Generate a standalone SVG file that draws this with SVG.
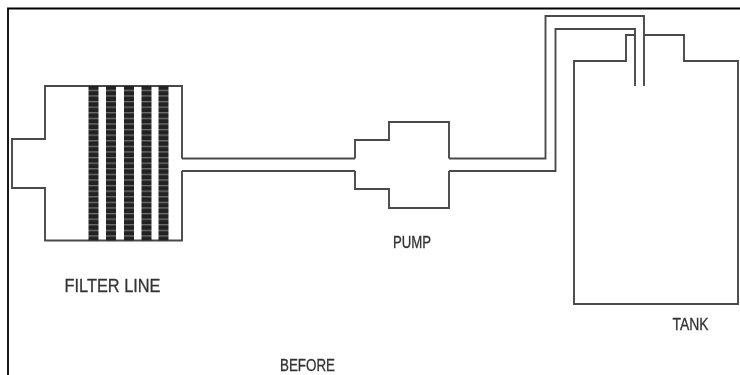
<svg xmlns="http://www.w3.org/2000/svg" width="740" height="375" viewBox="0 0 740 375">
<style>
.l{fill:none;stroke:#4a4a4a;stroke-width:1.9}
.f{fill:none;stroke:#000;stroke-width:1.8}
.t{font-family:"Liberation Sans",Arial,sans-serif;fill:#333;stroke:#333;stroke-width:.3}
</style>
<defs>
<pattern id="hatch" width="10" height="5.6" patternUnits="userSpaceOnUse" y="86">
<rect width="10" height="5.6" fill="#222"/>
<rect y="3.8" width="10" height="1.2" fill="#777"/>
</pattern>
<filter id="soft" x="0" y="0" width="740" height="375" filterUnits="userSpaceOnUse"><feGaussianBlur stdDeviation="0.5"/></filter>
</defs>
<rect width="740" height="375" fill="#fff"/>
<path id="frame" class="f" d="M8 375V8.500H740"/>
<g filter="url(#soft)">
<g id="filter-line">
<path class="l" d="M182 158.500V86H45V139H12V188H45V240.500H182V171"/>
<rect x="88.500" y="86" width="10" height="154.500" fill="url(#hatch)"/>
<rect x="106" y="86" width="10" height="154.500" fill="url(#hatch)"/>
<rect x="124" y="86" width="10" height="154.500" fill="url(#hatch)"/>
<rect x="141.500" y="86" width="10" height="154.500" fill="url(#hatch)"/>
<rect x="158.500" y="86" width="10" height="154.500" fill="url(#hatch)"/>
<text class="t" x="64.500" y="292" font-size="19" textLength="96" lengthAdjust="spacingAndGlyphs">FILTER LINE</text>
</g>
<g id="pump">
<path class="l" d="M355 158.500V140H389V122H449V158.500M449 171V208H389V189H355V171"/>
<text class="t" x="393" y="247.500" font-size="16" textLength="38" lengthAdjust="spacingAndGlyphs">PUMP</text>
</g>
<g id="tank">
<path class="l" d="M635 35H626V61H574V304H738V61H684V35H644"/>
<text class="t" x="672.500" y="329.500" font-size="16" textLength="36" lengthAdjust="spacingAndGlyphs">TANK</text>
</g>
<g id="connectors">
<path class="l" d="M182 158.500H355M182 171H355"/>
<path class="l" d="M449 158.500H545.500V16H644V86"/>
<path class="l" d="M449 171H555.500V29H635V86"/>
</g>
<text id="caption" class="t" x="280" y="371" font-size="16" textLength="55" lengthAdjust="spacingAndGlyphs">BEFORE</text>
</g>
</svg>
